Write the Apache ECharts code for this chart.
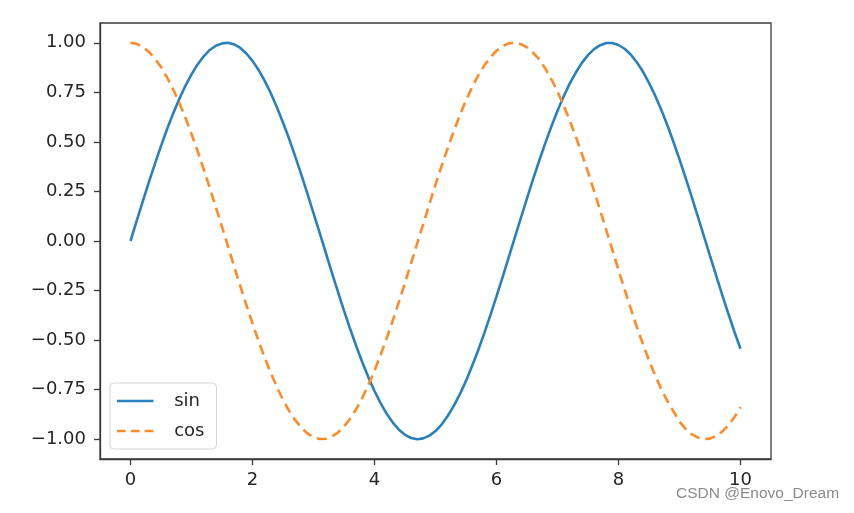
<!DOCTYPE html>
<html><head><meta charset="utf-8">
<script src="https://cdn.jsdelivr.net/npm/echarts@6/dist/echarts.min.js"></script>
<style>html,body{margin:0;padding:0;background:#fff}#c{width:854px;height:513px}</style>
</head><body><div id="c"></div>
<script>
const xs = [0.0,0.1,0.2,0.3,0.4,0.5,0.6,0.7,0.8,0.9,1.0,1.1,1.2,1.3,1.4,1.5,1.6,1.7,1.8,1.9,2.0,2.1,2.2,2.3,2.4,2.5,2.6,2.7,2.8,2.9,3.0,3.1,3.2,3.3,3.4,3.5,3.6,3.7,3.8,3.9,4.0,4.1,4.2,4.3,4.4,4.5,4.6,4.7,4.8,4.9,5.0,5.1,5.2,5.3,5.4,5.5,5.6,5.7,5.8,5.9,6.0,6.1,6.2,6.3,6.4,6.5,6.6,6.7,6.8,6.9,7.0,7.1,7.2,7.3,7.4,7.5,7.6,7.7,7.8,7.9,8.0,8.1,8.2,8.3,8.4,8.5,8.6,8.7,8.8,8.9,9.0,9.1,9.2,9.3,9.4,9.5,9.6,9.7,9.8,9.9,10.0];
const sinVals = [0.000,0.100,0.199,0.296,0.389,0.479,0.565,0.644,0.717,0.783,0.841,0.891,0.932,0.964,0.985,0.997,1.000,0.992,0.974,0.946,0.909,0.863,0.808,0.746,0.675,0.598,0.516,0.427,0.335,0.239,0.141,0.042,-0.058,-0.158,-0.256,-0.351,-0.443,-0.530,-0.612,-0.688,-0.757,-0.818,-0.872,-0.916,-0.952,-0.978,-0.994,-1.000,-0.996,-0.982,-0.959,-0.926,-0.883,-0.832,-0.773,-0.706,-0.631,-0.551,-0.465,-0.374,-0.279,-0.182,-0.083,0.017,0.117,0.215,0.312,0.405,0.494,0.578,0.657,0.729,0.794,0.850,0.899,0.938,0.968,0.988,0.999,0.999,0.989,0.970,0.941,0.902,0.855,0.798,0.734,0.663,0.585,0.501,0.412,0.319,0.223,0.124,0.025,-0.075,-0.174,-0.272,-0.366,-0.458,-0.544];
const cosVals = [1.000,0.995,0.980,0.955,0.921,0.878,0.825,0.765,0.697,0.622,0.540,0.454,0.362,0.267,0.170,0.071,-0.029,-0.129,-0.227,-0.323,-0.416,-0.505,-0.589,-0.666,-0.737,-0.801,-0.857,-0.904,-0.942,-0.971,-0.990,-0.999,-0.998,-0.987,-0.967,-0.936,-0.897,-0.848,-0.791,-0.726,-0.654,-0.575,-0.490,-0.401,-0.307,-0.211,-0.112,-0.012,0.087,0.187,0.284,0.378,0.469,0.554,0.635,0.709,0.776,0.835,0.886,0.927,0.960,0.983,0.997,1.000,0.993,0.977,0.951,0.916,0.870,0.816,0.754,0.684,0.608,0.526,0.439,0.347,0.252,0.154,0.054,-0.046,-0.146,-0.244,-0.340,-0.433,-0.520,-0.602,-0.678,-0.746,-0.807,-0.859,-0.911,-0.948,-0.975,-0.992,-1.000,-0.997,-0.984,-0.962,-0.930,-0.889,-0.839];
const xTicks = [0,2,4,6,8,10];
const yTicks = [-1.00,-0.75,-0.50,-0.25,0.00,0.25,0.50,0.75,1.00];

const chart = echarts.init(document.getElementById('c'));
const axisCol = '#3a3a3a';
const txtCol = '#262626';
const font = 'DejaVu Sans';
const blue = '#2a80bd';
const orange = '#ff8a26';
chart.setOption({
  animation: false,
  grid: {left: 100, top: 23, right: 83, bottom: 54, show: true, borderColor: axisCol, borderWidth: 1.3},
  xAxis: {
    type: 'value', min: -0.5, max: 10.5,
    axisLine: {show: true, onZero: false, lineStyle: {color: axisCol, width: 1.3}},
    axisTick: {show: true, customValues: xTicks, length: 6, lineStyle: {color: axisCol, width: 1.3}},
    axisLabel: {customValues: xTicks, margin: 12, color: txtCol, fontFamily: font, fontSize: 18},
    splitLine: {show: false}
  },
  yAxis: {
    type: 'value', min: -1.1, max: 1.1,
    axisLine: {show: true, onZero: false, lineStyle: {color: axisCol, width: 1.3}},
    axisTick: {show: true, customValues: yTicks, length: 6, lineStyle: {color: axisCol, width: 1.3}},
    axisLabel: {customValues: yTicks, margin: 14, color: txtCol, fontFamily: font, fontSize: 18,
      formatter: v => v.toFixed(2).replace('-', '\u2212')},
    splitLine: {show: false}
  },
  legend: {
    orient: 'vertical', left: 110, top: 383,
    padding: [9, 12, 9, 7], itemGap: 12,
    itemWidth: 42, itemHeight: 2.6,
    borderColor: '#d5d5d5', borderWidth: 1, borderRadius: 4, backgroundColor: '#fff',
    textStyle: {color: txtCol, fontFamily: font, fontSize: 18, padding: [0, 0, 0, 13]},
    data: [
      {name: 'sin', icon: 'path://M0,0h42v3h-42z'},
      {name: 'cos', icon: 'path://M0,0h10v3h-10zM16,0h10v3h-10zM32,0h10v3h-10z'}
    ]
  },
  series: [
    {name: 'sin', type: 'line', symbol: 'none', smooth: false,
     data: xs.map((x, i) => [x, sinVals[i]]),
     lineStyle: {color: blue, width: 2.6}, itemStyle: {color: blue}},
    {name: 'cos', type: 'line', symbol: 'none', smooth: false,
     data: xs.map((x, i) => [x, cosVals[i]]),
     lineStyle: {color: orange, width: 2.6, type: [10, 6]}, itemStyle: {color: orange}}
  ],
  graphic: [{type: 'text', left: 676, top: 486,
    style: {text: 'CSDN @Enovo_Dream', fill: '#8a8a8a', font: '15.5px "Liberation Sans", Arial, sans-serif'}}]
});
</script></body></html>
